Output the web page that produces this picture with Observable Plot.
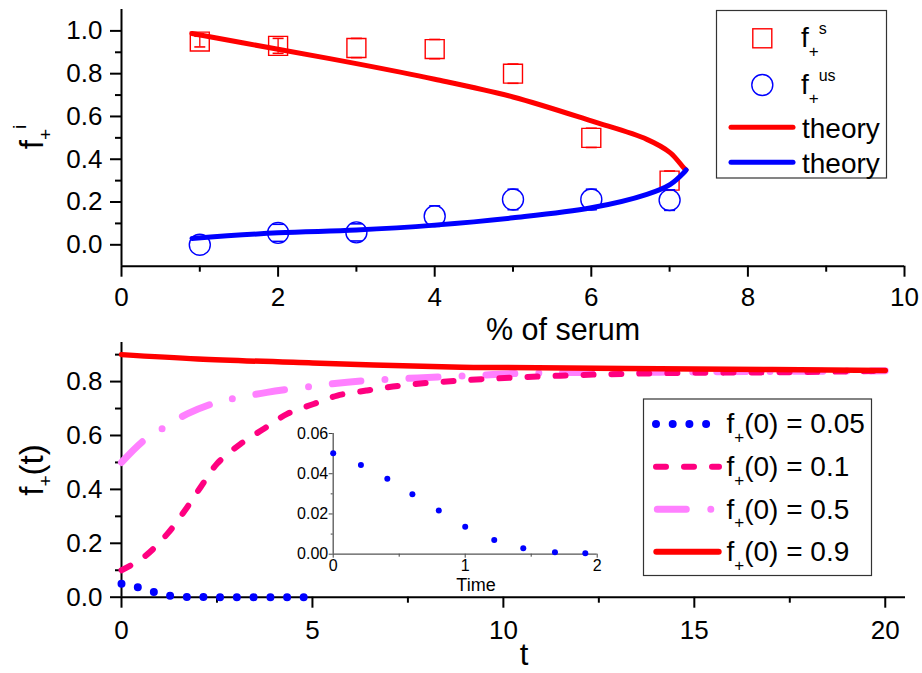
<!DOCTYPE html>
<html>
<head>
<meta charset="utf-8">
<script src="https://cdn.jsdelivr.net/npm/d3@7"></script>
<script src="https://cdn.jsdelivr.net/npm/@observablehq/plot@0.6"></script>
<style>
  body { margin: 0; background: #fff; }
  #wrap { position: relative; width: 922px; height: 673px; overflow: hidden; background: #fff; }
  #wrap > svg { position: absolute; }
</style>
</head>
<body>
<div id="wrap"></div>
<script>
const F = '"Liberation Sans", Arial, Helvetica, sans-serif';

// ---------- top panel data ----------
const serum = [1, 2, 3, 4, 5, 6, 7];
const fStable = [0.95, 0.93, 0.92, 0.915, 0.80, 0.50, 0.30];
const fStableErr = [0.025, 0.035, 0.045, 0.045, 0.045, 0.045, 0.045];
const fUnstable = [0.00, 0.056, 0.058, 0.134, 0.212, 0.212, 0.209];
const fUnstableErr = [0, 0.04, 0.04, 0.048, 0.048, 0.048, 0.048];
const theorySx = [0.9, 2, 3, 4, 5, 6, 6.71, 7.01, 7.18, 7.21];
const theorySy = [0.988, 0.914, 0.847, 0.774, 0.691, 0.579, 0.493, 0.43, 0.36, 0.35];
const theoryUx = [0.9, 2, 3, 4, 5, 6, 6.71, 7.01, 7.18, 7.21];
const theoryUy = [0.030, 0.056, 0.069, 0.092, 0.126, 0.173, 0.236, 0.283, 0.337, 0.35];
const topXMajor = [0, 2, 4, 6, 8, 10];
const topXMinor = [1, 3, 5, 7, 9];
const topYMajor = [0, 0.2, 0.4, 0.6, 0.8, 1.0];
const topYMinor = [0.1, 0.3, 0.5, 0.7, 0.9];

// ---------- bottom panel data ----------
const tRed = [0, 2, 5, 8.9, 10, 15, 20];
const fRed = [0.9, 0.884, 0.869, 0.853, 0.852, 0.847, 0.841];
const tMag = [0, 0.58, 1.2, 1.72, 2.07, 2.5, 3.12, 3.73, 4.34, 5.03, 5.65, 6.43, 7.3, 8.87, 11.5, 14.1, 17.6, 20];
const fMag = [0.1, 0.148, 0.235, 0.334, 0.408, 0.495, 0.569, 0.625, 0.68, 0.717, 0.748, 0.767, 0.785, 0.804, 0.822, 0.831, 0.835, 0.84];
const tPink = [0, 0.58, 1.2, 1.72, 2.5, 3.12, 3.81, 5.12, 6.43, 8.87, 10.6, 14.1, 20];
const fPink = [0.5, 0.581, 0.637, 0.68, 0.723, 0.742, 0.76, 0.785, 0.804, 0.82, 0.831, 0.835, 0.84];
const tInset = [0, 0.21, 0.41, 0.60, 0.80, 1.0, 1.22, 1.44, 1.68, 1.91];
const fInset = [0.0502, 0.0444, 0.0375, 0.0298, 0.0217, 0.0136, 0.0070, 0.0030, 0.0010, 0.0005];
const tBlue = [...tInset, 4.8];
const fBlue = [...fInset, 0];
const botXMajor = [0, 5, 10, 15, 20];
const botXMinor = [2.5, 7.5, 12.5, 17.5];
const botYMajor = [0, 0.2, 0.4, 0.6, 0.8];
const botYMinor = [0.1, 0.3, 0.5, 0.7, 0.9];
const insetXMajor = [0, 1, 2];
const insetXMinor = [0.5, 1.5];
const insetYMajor = [0, 0.02, 0.04, 0.06];
const insetYMinor = [0.01, 0.03, 0.05];

// ---------- build tables ----------
const measured = serum.map((x, i) => ({x, s: fStable[i], se: fStableErr[i], u: fUnstable[i], ue: fUnstableErr[i]}));
const thS = theorySx.map((x, i) => ({x, y: theorySy[i]}));
const thU = theoryUx.map((x, i) => ({x, y: theoryUy[i]}));
const zip = (a, b) => a.map((t, i) => ({t, f: b[i]}));
const redD = zip(tRed, fRed), magD = zip(tMag, fMag), pinkD = zip(tPink, fPink), blueD = zip(tBlue, fBlue), insetD = zip(tInset, fInset);

const cap = {draw(ctx, size) { const r = Math.sqrt(size / Math.PI); ctx.moveTo(-r, 0); ctx.lineTo(r, 0); }};
const none = () => "";
const style = {fontFamily: F, fontSize: "26px", color: "#000", background: "transparent", overflow: "visible"};
const withBar = measured.filter(d => d.se < 0.044);
const withCapU = measured.filter(d => d.ue > 0);

const topPlot = Plot.plot({
  width: 922, height: 340,
  marginLeft: 121, marginRight: 18, marginTop: 9, marginBottom: 74.3,
  x: {domain: [0, 10]},
  y: {domain: [-0.1, 1.1]},
  style,
  marks: [
    Plot.axisX({ticks: topXMajor, tickSize: 11, tickPadding: 10, strokeWidth: 2, tickFormat: d3.format("d"), label: null}),
    Plot.axisX({ticks: topXMinor, tickSize: 6, strokeWidth: 2, tickFormat: none, label: null}),
    Plot.axisY({ticks: topYMajor, tickSize: 11, tickPadding: 8, strokeWidth: 2, tickFormat: d3.format(".1f"), label: null}),
    Plot.axisY({ticks: topYMinor, tickSize: 6, strokeWidth: 2, tickFormat: none, label: null}),
    Plot.ruleX([0], {strokeWidth: 2}),
    Plot.ruleY([-0.1], {strokeWidth: 2}),
    Plot.ruleX(withBar, {x: "x", y1: d => d.s - d.se, y2: d => d.s + d.se, stroke: "#ff0000", strokeWidth: 1.3}),
    Plot.dot(measured, {x: "x", y: d => d.s + d.se, symbol: cap, r: 5.5, stroke: "#ff0000", strokeWidth: 1.6}),
    Plot.dot(measured, {x: "x", y: d => d.s - d.se, symbol: cap, r: 5.5, stroke: "#ff0000", strokeWidth: 1.6}),
    Plot.dot(measured, {x: "x", y: "s", symbol: "square", r: 10.7, stroke: "#ff0000", strokeWidth: 1.4, fill: "none"}),
    Plot.dot(withCapU, {x: "x", y: d => d.u + d.ue, symbol: cap, r: 5.5, stroke: "#0000ff", strokeWidth: 1.6}),
    Plot.dot(withCapU, {x: "x", y: d => d.u - d.ue, symbol: cap, r: 5.5, stroke: "#0000ff", strokeWidth: 1.6}),
    Plot.dot(measured, {x: "x", y: "u", r: 10.5, stroke: "#0000ff", strokeWidth: 1.4, fill: "none"}),
    Plot.line(thS, {x: "x", y: "y", stroke: "#ff0000", strokeWidth: 5, curve: "catmull-rom"}),
    Plot.line(thU, {x: "x", y: "y", stroke: "#0000ff", strokeWidth: 5, curve: "catmull-rom"})
  ]
});

const botPlot = Plot.plot({
  width: 922, height: 343,
  marginLeft: 121, marginRight: 17, marginTop: 12, marginBottom: 76.3,
  x: {domain: [0, 20.53]},
  y: {domain: [0, 0.945]},
  style,
  marks: [
    Plot.axisX({ticks: botXMajor, tickSize: 11, tickPadding: 12, strokeWidth: 2, tickFormat: d3.format("d"), label: null}),
    Plot.axisX({ticks: botXMinor, tickSize: 6, strokeWidth: 2, tickFormat: none, label: null}),
    Plot.axisY({ticks: botYMajor, tickSize: 11, tickPadding: 8, strokeWidth: 2, tickFormat: d3.format(".1f"), label: null}),
    Plot.axisY({ticks: botYMinor, tickSize: 6, strokeWidth: 2, tickFormat: none, label: null}),
    Plot.ruleX([0], {strokeWidth: 2}),
    Plot.ruleY([0], {strokeWidth: 2}),
    Plot.line(blueD, {x: "t", y: "f", stroke: "#0000ff", strokeWidth: 8, strokeLinecap: "round", strokeDasharray: "0,16.7", curve: "catmull-rom"}),
    Plot.line(pinkD, {x: "t", y: "f", stroke: "#ff80ff", strokeWidth: 7, strokeLinecap: "round", strokeDasharray: "29,24,0,24", curve: "catmull-rom"}),
    Plot.line(magD, {x: "t", y: "f", stroke: "#ff0080", strokeWidth: 6, strokeLinecap: "round", strokeDasharray: "10,18", curve: "catmull-rom"}),
    Plot.line(redD, {x: "t", y: "f", stroke: "#ff0000", strokeWidth: 5.5, curve: "catmull-rom"})
  ]
});

const insetPlot = Plot.plot({
  width: 330, height: 170,
  marginLeft: 52.7, marginRight: 13.3, marginTop: 13, marginBottom: 36.3,
  x: {domain: [0, 2]},
  y: {domain: [0, 0.06]},
  style: {...style, fontSize: "16px"},
  marks: [
    Plot.axisX({ticks: insetXMajor, tickSize: 4, tickPadding: 1.5, stroke: "#444", tickFormat: d3.format("d"), label: null}),
    Plot.axisX({ticks: insetXMinor, tickSize: 3, stroke: "#444", tickFormat: none, label: null}),
    Plot.axisY({ticks: insetYMajor, tickSize: 4, tickPadding: 1, stroke: "#444", tickFormat: d3.format(".2f"), label: null}),
    Plot.axisY({ticks: insetYMinor, tickSize: 2, stroke: "#444", tickFormat: none, label: null}),
    Plot.ruleX([0], {stroke: "#555", strokeWidth: 1.3}),
    Plot.ruleY([0], {stroke: "#555", strokeWidth: 1.3}),
    Plot.dot(insetD, {x: "t", y: "f", r: 3, fill: "#0000ff"})
  ]
});

const wrap = document.getElementById("wrap");
function place(el, left, top) { el.style.left = left + "px"; el.style.top = top + "px"; wrap.appendChild(el); }
place(topPlot, 0, 0);
place(botPlot, 0, 330);
place(insetPlot, 280, 420);

// ---------- overlay: axis titles and legends ----------
const ov = d3.create("svg").attr("width", 922).attr("height", 673)
  .style("left", "0px").style("top", "0px").style("pointer-events", "none")
  .attr("font-family", F);

function label(parent, x, y, size, parts, anchor = "start") {
  const t = parent.append("text").attr("x", x).attr("y", y).attr("font-size", size).attr("text-anchor", anchor).attr("fill", "#000");
  for (const p of parts) {
    const s = t.append("tspan").text(p.t);
    if (p.size) s.attr("font-size", p.size);
    if (p.dy) s.attr("dy", p.dy);
  }
  return t;
}

// axis titles
label(ov, 563, 339.5, 30.5, [{t: "% of serum"}], "middle");
label(ov, 524, 665, 31, [{t: "t"}], "middle");
label(ov, 476, 591, 18, [{t: "Time"}], "middle");
const yt1 = ov.append("g").attr("transform", "translate(43,137) rotate(-90)");
label(yt1, 0, 0, 33, [{t: "f"}, {t: "+", size: 19, dy: 9}, {t: "i", size: 19, dy: -26}], "middle");
const yt2 = ov.append("g").attr("transform", "translate(43,470) rotate(-90)");
label(yt2, 0, 0, 33, [{t: "f"}, {t: "+", size: 19, dy: 9}, {t: "(t)", dy: -9}], "middle");

// top legend
ov.append("rect").attr("x", 716.5).attr("y", 10.5).attr("width", 170).attr("height", 167.5)
  .attr("fill", "#fff").attr("stroke", "#333").attr("stroke-width", 1.2);
ov.append("rect").attr("x", 762.3 - 9.5).attr("y", 38.3 - 9.5).attr("width", 19).attr("height", 19)
  .attr("fill", "none").attr("stroke", "#ff0000").attr("stroke-width", 1.4);
ov.append("circle").attr("cx", 762.3).attr("cy", 85).attr("r", 10.5)
  .attr("fill", "none").attr("stroke", "#0000ff").attr("stroke-width", 1.4);
ov.append("line").attr("x1", 731).attr("x2", 793).attr("y1", 127.3).attr("y2", 127.3)
  .attr("stroke", "#ff0000").attr("stroke-width", 5).attr("stroke-linecap", "round");
ov.append("line").attr("x1", 731).attr("x2", 793).attr("y1", 162.3).attr("y2", 162.3)
  .attr("stroke", "#0000ff").attr("stroke-width", 5).attr("stroke-linecap", "round");
label(ov, 801, 47, 28, [{t: "f"}, {t: "+", size: 17, dy: 9.5}, {t: "s", size: 16, dy: -23}]);
label(ov, 801, 94, 28, [{t: "f"}, {t: "+", size: 17, dy: 9.5}, {t: "us", size: 16, dy: -23}]);
label(ov, 802, 137.5, 28, [{t: "theory"}]);
label(ov, 802, 172.5, 28, [{t: "theory"}]);

// bottom legend
ov.append("rect").attr("x", 643.5).attr("y", 399).attr("width", 228).attr("height", 176.5)
  .attr("fill", "#fff").attr("stroke", "#333").attr("stroke-width", 1.2);
const rows = [424, 466.7, 509.3, 551.7];
ov.append("line").attr("x1", 656).attr("x2", 707).attr("y1", rows[0]).attr("y2", rows[0])
  .attr("stroke", "#0000ff").attr("stroke-width", 8).attr("stroke-linecap", "round").attr("stroke-dasharray", "0,16.7");
ov.append("line").attr("x1", 656).attr("x2", 719).attr("y1", rows[1]).attr("y2", rows[1])
  .attr("stroke", "#ff0080").attr("stroke-width", 6).attr("stroke-linecap", "round").attr("stroke-dasharray", "10,18");
ov.append("line").attr("x1", 657.3).attr("x2", 711).attr("y1", rows[2]).attr("y2", rows[2])
  .attr("stroke", "#ff80ff").attr("stroke-width", 7).attr("stroke-linecap", "round").attr("stroke-dasharray", "29,24.5,0,30");
ov.append("line").attr("x1", 656.3).attr("x2", 718.7).attr("y1", rows[3]).attr("y2", rows[3])
  .attr("stroke", "#ff0000").attr("stroke-width", 6).attr("stroke-linecap", "round");
const vals = ["0.05", "0.1", "0.5", "0.9"];
rows.forEach((y, i) => {
  label(ov, 726.5, y + 9.3, 28, [{t: "f"}, {t: "+", size: 17, dy: 9.5}, {t: "(0) = " + vals[i], dy: -9.5}]);
});

wrap.appendChild(ov.node());
</script>
</body>
</html>
